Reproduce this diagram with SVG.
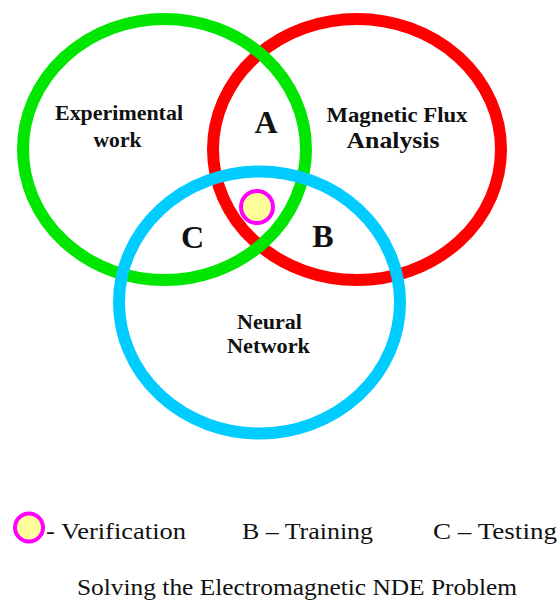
<svg xmlns="http://www.w3.org/2000/svg" width="560" height="602" viewBox="0 0 560 602">
<style>
.ring{fill:none;stroke-width:12}
.lbl{font-weight:bold;fill:#111;text-anchor:middle}
.big{font-weight:bold;fill:#111;text-anchor:middle;font-size:32px}
.leg{fill:#111;font-size:24px}
.dot{fill:#ffff99;stroke:#ff00ff;stroke-width:4}
</style>
<rect width="560" height="602" fill="#ffffff"/>
<g font-family="Liberation Serif, Tinos, Times New Roman, DejaVu Serif, Noto Serif, FreeSerif, serif">
<g id="magnetic-flux">
<ellipse class="ring" cx="357" cy="149.5" rx="144" ry="130.5" stroke="#ff0000"/>
<text class="lbl" x="397" y="122" font-size="21" textLength="141" lengthAdjust="spacingAndGlyphs">Magnetic Flux</text>
<text class="lbl" x="393" y="148" font-size="24" textLength="93" lengthAdjust="spacingAndGlyphs">Analysis</text>
</g>
<g id="experimental">
<ellipse class="ring" cx="164.5" cy="149.5" rx="141.5" ry="130.5" stroke="#00e600"/>
<text class="lbl" x="119" y="120" font-size="21" textLength="128" lengthAdjust="spacingAndGlyphs">Experimental</text>
<text class="lbl" x="117.5" y="147" font-size="21" textLength="48" lengthAdjust="spacingAndGlyphs">work</text>
</g>
<g id="neural-network">
<ellipse class="ring" cx="259.5" cy="302.5" rx="140.5" ry="131" stroke="#00ccff"/>
<text class="lbl" x="269.5" y="329" font-size="21" textLength="65" lengthAdjust="spacingAndGlyphs">Neural</text>
<text class="lbl" x="268.5" y="353" font-size="21" textLength="83" lengthAdjust="spacingAndGlyphs">Network</text>
</g>
<g id="region-a"><text class="big" x="266" y="133">A</text></g>
<g id="region-b"><text class="big" x="323" y="247">B</text></g>
<g id="region-c"><text class="big" x="192.5" y="248">C</text></g>
<g id="verification"><circle class="dot" cx="257" cy="207" r="16"/></g>
<g id="connectors"></g>
<g id="legend">
<text class="leg" x="46" y="539" textLength="140" lengthAdjust="spacingAndGlyphs">- Verification</text>
<circle class="dot" cx="29" cy="527.5" r="14"/>
<text class="leg" x="242" y="539" textLength="131" lengthAdjust="spacingAndGlyphs">B – Training</text>
<text class="leg" x="433" y="539" textLength="124" lengthAdjust="spacingAndGlyphs">C – Testing</text>
<text class="leg" x="297" y="595" text-anchor="middle" textLength="440" lengthAdjust="spacingAndGlyphs">Solving the Electromagnetic NDE Problem</text>
</g>
</g>
</svg>
